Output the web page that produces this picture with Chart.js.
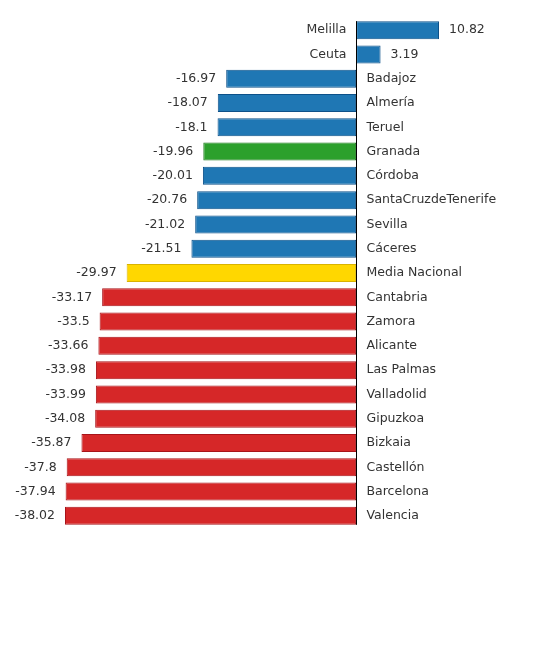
<!DOCTYPE html>
<html>
<head>
<meta charset="utf-8">
<script src="https://cdn.jsdelivr.net/npm/chart.js@4.4.0/dist/chart.umd.min.js"></script>
<style>
html,body{margin:0;padding:0;background:#fff;}
#wrap{width:550px;height:650px;position:relative;}
</style>
</head>
<body>
<div id="wrap"><canvas id="c"></canvas></div>
<script>
const categories = ["Melilla","Ceuta","Badajoz","Almería","Teruel","Granada","Córdoba","SantaCruzdeTenerife","Sevilla","Cáceres","Media Nacional","Cantabria","Zamora","Alicante","Las Palmas","Valladolid","Gipuzkoa","Bizkaia","Castellón","Barcelona","Valencia"];
const values = [10.82,3.19,-16.97,-18.07,-18.1,-19.96,-20.01,-20.76,-21.02,-21.51,-29.97,-33.17,-33.5,-33.66,-33.98,-33.99,-34.08,-35.87,-37.8,-37.94,-38.02];
const groups = ["b","b","b","b","b","g","b","b","b","b","y","r","r","r","r","r","r","r","r","r","r"];

const fills = {b:"#1f77b4", g:"#2ca02c", y:"#ffd700", r:"#d62728"};
const borders = {b:"#0d5189", g:"#1b7a1b", y:"#d9b300", r:"#a8141a"};

const labelPlugin = {
  id: "labels",
  afterDatasetsDraw(chart) {
    const ctx = chart.ctx;
    const meta = chart.getDatasetMeta(0);
    const xs = chart.scales.x;
    const x0 = Math.round(xs.getPixelForValue(0)) + 0.5;
    const first = meta.data[0], last = meta.data[meta.data.length - 1];
    ctx.save();
    ctx.strokeStyle = "#000";
    ctx.lineWidth = 1;
    ctx.beginPath();
    ctx.moveTo(x0, first.y - first.height / 2);
    ctx.lineTo(x0, last.y + last.height / 2);
    ctx.stroke();
    ctx.font = "12.5px 'DejaVu Sans'";
    ctx.fillStyle = "#333";
    ctx.textBaseline = "middle";
    meta.data.forEach((bar, i) => {
      const v = values[i];
      const y = bar.y;
      if (v >= 0) {
        ctx.textAlign = "right";
        ctx.fillText(categories[i], x0 - 10, y);
        ctx.textAlign = "left";
        ctx.fillText(String(v), bar.x + 10, y);
      } else {
        ctx.textAlign = "left";
        ctx.fillText(categories[i], x0 + 10, y);
        ctx.textAlign = "right";
        ctx.fillText(String(v), bar.x - 10, y);
      }
    });
    ctx.restore();
  }
};

new Chart(document.getElementById("c"), {
  type: "bar",
  data: {
    labels: categories,
    datasets: [{
      data: values,
      backgroundColor: groups.map(g => fills[g]),
      borderColor: groups.map(g => borders[g]),
      borderWidth: 1,
      borderSkipped: false,
      categoryPercentage: 1,
      barPercentage: 0.74
    }]
  },
  options: {
    indexAxis: "y",
    responsive: true,
    maintainAspectRatio: false,
    animation: false,
    layout: { padding: { left: 65, right: 111, top: 18, bottom: 122 } },
    scales: {
      x: { display: false, min: -38.02, max: 10.82 },
      y: { display: false }
    },
    plugins: { legend: { display: false }, tooltip: { enabled: false } }
  },
  plugins: [labelPlugin]
});
</script>
</body>
</html>
